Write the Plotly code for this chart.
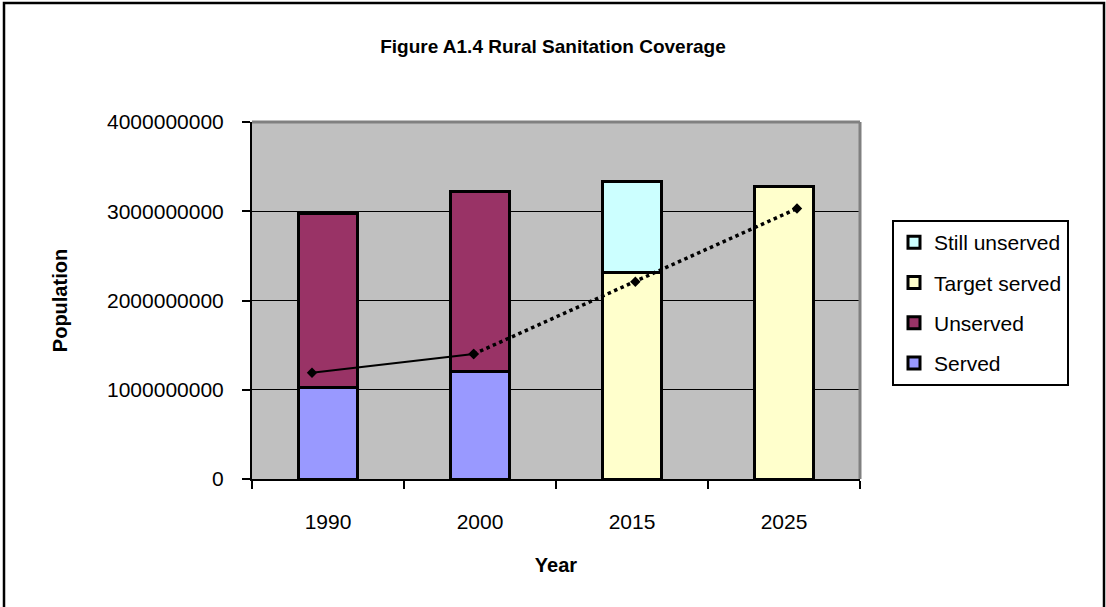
import plotly.graph_objects as go

years = ["1990", "2000", "2015", "2025"]
served = [1.03e9, 1.20e9, None, None]
unserved = [1.94e9, 2.02e9, None, None]
target_served = [None, None, 2.31e9, 3.28e9]
still_unserved = [None, None, 1.02e9, None]

actual_years = ["1990", "2000"]
actual_values = [1.19e9, 1.40e9]
proj_years = ["2000", "2015", "2025"]
proj_values = [1.40e9, 2.21e9, 3.03e9]

FONT = "Liberation Sans"
W, H = 1106, 607
L, R, T, B = 252, 860, 122, 479
pw, ph = R - L, B - T

def px(x):
    return (x - L) / pw

def py(y):
    return (B - y) / ph

fig = go.Figure()
bar_line = dict(color="black", width=3)
for name, vals, col, rank in [("Served", served, "#9999FF", 4),
                              ("Unserved", unserved, "#993366", 3),
                              ("Target served", target_served, "#FFFFCC", 2),
                              ("Still unserved", still_unserved, "#CCFFFF", 1)]:
    fig.add_trace(go.Bar(x=years, y=vals, name=name, legendgroup=name, legendrank=rank,
                         marker=dict(color=col, line=bar_line)))

fig.add_trace(go.Scatter(x=actual_years, y=actual_values, xaxis="x2", mode="lines+markers",
                         line=dict(color="black", width=2),
                         marker=dict(symbol="diamond", size=8, color="black"),
                         showlegend=False))
fig.add_trace(go.Scatter(x=proj_years, y=proj_values, xaxis="x2", mode="lines+markers",
                         line=dict(color="black", width=3.5, dash="dot"),
                         marker=dict(symbol="diamond", size=8, color="black"),
                         showlegend=False))

# line positions offset (drawn separately in the original)
a = -60 / 161.67
b = a + pw / 161.67

fig.update_layout(
    width=W, height=H,
    margin=dict(l=L, r=W - R, t=T, b=H - B),
    paper_bgcolor="white", plot_bgcolor="#C0C0C0",
    barmode="stack", bargap=0.61,
    font=dict(family=FONT, color="black", size=21),
    title=dict(text="<b>Figure A1.4 Rural Sanitation Coverage</b>", x=0.5, xanchor="center",
               y=1 - 46 / H, yanchor="middle", font=dict(size=19, family=FONT)),
    xaxis=dict(categoryorder="array", categoryarray=years, tickson="boundaries",
               ticks="outside", ticklen=8, tickwidth=2, tickcolor="black",
               showline=True, linecolor="black", linewidth=2, showgrid=False,
               ticklabelstandoff=23, tickfont=dict(size=21),
               title=dict(text="<b>Year</b>", font=dict(size=20), standoff=26)),
    xaxis2=dict(overlaying="x", range=[a, b], visible=False, type="category",
                categoryorder="array", categoryarray=years),
    yaxis=dict(range=[0, 4e9], dtick=1e9, tickformat="d",
               ticks="outside", ticklen=8, tickwidth=2, tickcolor="black",
               showline=True, linecolor="black", linewidth=2,
               showgrid=True, gridcolor="black", gridwidth=1, zeroline=False,
               ticklabelstandoff=14, tickfont=dict(size=21),
               title=dict(text="<b>Population</b>", font=dict(size=20), standoff=34)),
    legend=dict(x=px(892), y=py(220), xanchor="left", yanchor="top",
                bordercolor="black", borderwidth=2, bgcolor="white",
                traceorder="grouped", tracegroupgap=10,
                font=dict(size=21, family=FONT)),
    shapes=[
        dict(type="line", xref="paper", yref="paper", x0=0, x1=1, y0=1, y1=1,
             line=dict(color="#808080", width=3)),
        dict(type="line", xref="paper", yref="paper", x0=1, x1=1, y0=0, y1=1,
             line=dict(color="#808080", width=3)),
        dict(type="rect", xref="paper", yref="paper", x0=px(4), x1=px(1104),
             y0=py(625), y1=py(3), line=dict(color="black", width=2.5),
             fillcolor="rgba(0,0,0,0)", layer="above"),
    ],
)

fig.write_html("out.html")
